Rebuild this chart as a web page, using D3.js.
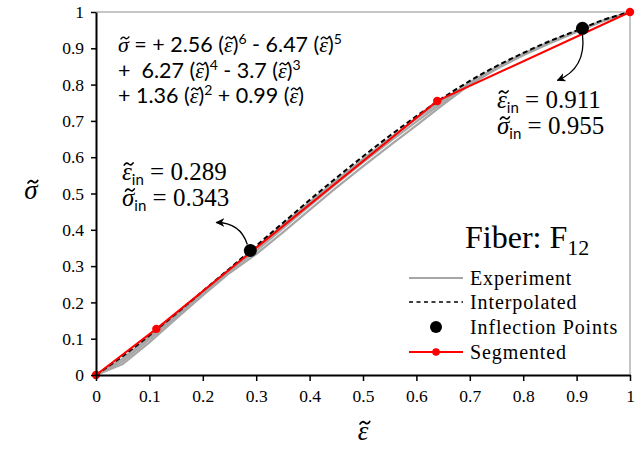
<!DOCTYPE html>
<html>
<head>
<meta charset="utf-8">
<script src="https://cdn.jsdelivr.net/npm/d3@7"></script>
<style>
  html, body { margin: 0; padding: 0; background: #fff; }
  svg { display: block; }
</style>
</head>
<body>
<svg id="chart" width="642" height="450"></svg>
<script>
// Normalised strain positions shared by the sampled curves
const strain = [0, 0.05, 0.1, 0.15, 0.2, 0.25, 0.3, 0.35, 0.4, 0.45, 0.5,
                0.55, 0.6, 0.65, 0.7, 0.75, 0.8, 0.85, 0.9, 0.95, 1];

// Experimental stress curves (several specimens)
const experimentA = [0, 0.045, 0.105, 0.167, 0.229, 0.291, 0.352, 0.414, 0.476, 0.536, 0.595,
                     0.652, 0.706, 0.758, 0.806, 0.848, 0.885, 0.918, 0.947, 0.977, 1.0];
const experimentB = [0, 0.038, 0.098, 0.161, 0.224, 0.286, 0.342, 0.404, 0.466, 0.527, 0.586,
                     0.643, 0.698, 0.752, 0.803, 0.845, 0.883, 0.916, 0.946, 0.976, 1.0];
const experimentC = [0, 0.030, 0.090, 0.155, 0.219, 0.281, 0.333, 0.393, 0.455, 0.516, 0.575,
                     0.632, 0.688, 0.745, 0.800, 0.843, 0.881, 0.914, 0.945, 0.975, 1.0];

// Interpolated polynomial curve values
const interpolated = [0, 0.052, 0.109, 0.169, 0.231, 0.293, 0.356, 0.419, 0.482, 0.543, 0.602,
                      0.659, 0.713, 0.764, 0.810, 0.851, 0.887, 0.920, 0.949, 0.978, 1.0];

// Inflection points
const inflectionStrain = [0.289, 0.911];
const inflectionStress = [0.343, 0.955];

// Segmented (piecewise linear) approximation
const segStrain = [0, 0.113, 0.639, 1];
const segStress = [0, 0.127, 0.755, 1];

const tickValues = [0, 0.1, 0.2, 0.3, 0.4, 0.5, 0.6, 0.7, 0.8, 0.9, 1];

const svg = d3.select("#chart");
const x = d3.scaleLinear().domain([0, 1]).range([96, 630]);
const y = d3.scaleLinear().domain([0, 1]).range([375, 12]);

const serif = "'Liberation Serif', 'DejaVu Serif', serif";
const sans = "Lato, 'Open Sans', sans-serif";

// Plot-area frame (top and right)
svg.append("path")
  .attr("d", `M${x(0)},${y(1)}H${x(1)}V${y(0)}`)
  .attr("fill", "none").attr("stroke", "#8c8c8c").attr("stroke-width", 1);

const line = d3.line().x(d => x(d[0])).y(d => y(d[1]));
const zip = (a, b) => a.map((v, i) => [v, b[i]]);

// Experiment curves
[experimentA, experimentB, experimentC].forEach(arr => {
  svg.append("path")
    .attr("d", line(zip(strain, arr)))
    .attr("fill", "none").attr("stroke", "#a6a6a6").attr("stroke-width", 2.2);
});

// Interpolated curve
svg.append("path")
  .attr("d", d3.line().curve(d3.curveMonotoneX).x(d => x(d[0])).y(d => y(d[1]))(zip(strain, interpolated)))
  .attr("fill", "none").attr("stroke", "#000").attr("stroke-width", 2)
  .attr("stroke-dasharray", "5,3");

// Segmented line
svg.append("path")
  .attr("d", line(zip(segStrain, segStress)))
  .attr("fill", "none").attr("stroke", "#ff0000").attr("stroke-width", 2);
svg.selectAll(".segdot").data(zip(segStrain, segStress)).enter().append("circle")
  .attr("cx", d => x(d[0])).attr("cy", d => y(d[1])).attr("r", 4.2).attr("fill", "#ff0000");

// Axes
const yAxis = svg.append("g").attr("transform", `translate(${x(0)},0)`)
  .call(d3.axisLeft(y).tickValues(tickValues).tickSize(5).tickSizeOuter(0).tickPadding(7)
        .tickFormat(d3.format("~g")));
const xAxis = svg.append("g").attr("transform", `translate(0,${y(0)})`)
  .call(d3.axisBottom(x).tickValues(tickValues).tickSize(6).tickSizeOuter(0).tickPadding(9)
        .tickFormat(d3.format("~g")));
[xAxis, yAxis].forEach(g => {
  g.select(".domain").attr("stroke", "#000").attr("stroke-width", 2);
  g.selectAll(".tick line").attr("stroke", "#000").attr("stroke-width", 1.5);
  g.selectAll(".tick text").attr("fill", "#000").style("font-family", serif).style("font-size", "17.5px");
});

// Inflection points
svg.selectAll(".infl").data(zip(inflectionStrain, inflectionStress)).enter().append("circle")
  .attr("cx", d => x(d[0])).attr("cy", d => y(d[1])).attr("r", 6.5).attr("fill", "#000");

// Arrow marker
svg.append("defs").append("marker")
  .attr("id", "arrowhead").attr("viewBox", "0 0 10 10").attr("refX", 9).attr("refY", 5)
  .attr("markerWidth", 9).attr("markerHeight", 9).attr("orient", "auto-start-reverse")
  .attr("markerUnits", "userSpaceOnUse")
  .append("path").attr("d", "M0,0L10,5L0,10L3,5Z").attr("fill", "#000");

const p1x = x(inflectionStrain[1]), p1y = y(inflectionStress[1]);
svg.append("path")
  .attr("d", `M${p1x},${p1y + 6}Q${p1x + 4},${p1y + 40} ${p1x - 25},${p1y + 52}`)
  .attr("fill", "none").attr("stroke", "#000").attr("stroke-width", 1.3)
  .attr("marker-end", "url(#arrowhead)");
const p0x = x(inflectionStrain[0]), p0y = y(inflectionStress[0]);
svg.append("path")
  .attr("d", `M${p0x - 3},${p0y - 6}Q${p0x - 10},${p0y - 28} ${p0x - 34},${p0y - 28}`)
  .attr("fill", "none").attr("stroke", "#000").attr("stroke-width", 1.3)
  .attr("marker-end", "url(#arrowhead)");

// Draws a tilde accent over an italic symbol tspan sitting on the given baseline
function tildeOver(tspanNode, baseline, fs) {
  const textNode = tspanNode.parentNode;
  let idx = 0;
  for (const n of textNode.childNodes) {
    if (n === tspanNode) break;
    idx += n.textContent.length;
  }
  const ext = textNode.getExtentOfChar(idx);
  const cx = ext.x + ext.width / 2 + 0.07 * fs;
  const w = 0.36 * fs, a = 0.045 * fs;
  const y0 = baseline - 0.64 * fs;
  const x1 = cx - w / 2;
  svg.append("path")
    .attr("d", `M${x1},${y0 + a}Q${x1 + w / 4},${y0 - 2 * a} ${x1 + w / 2},${y0}T${x1 + w},${y0 - a}`)
    .attr("fill", "none").attr("stroke", "#000").attr("stroke-width", Math.max(1, 0.065 * fs))
    .attr("stroke-linecap", "round");
}

// Axis titles
const xTitle = svg.append("text").attr("x", x(0.5)).attr("y", 440).attr("text-anchor", "middle")
  .style("font-family", serif).style("font-style", "italic").style("font-size", "27px");
tildeOver(xTitle.append("tspan").text("ε").node(), 440, 27);
const yTitle = svg.append("text").attr("x", 31).attr("y", 199).attr("text-anchor", "middle")
  .style("font-family", serif).style("font-style", "italic").style("font-size", "27px");
tildeOver(yTitle.append("tspan").text("σ").node(), 199, 27);

// Polynomial equation
const eqLines = [
  [["σ", "v"], [" = + 2.56 (", "t"], ["ε", "v"], [")", "t"], ["6", "s"], [" - 6.47 (", "t"], ["ε", "v"], [")", "t"], ["5", "s"]],
  [["+  6.27 (", "t"], ["ε", "v"], [")", "t"], ["4", "s"], [" - 3.7 (", "t"], ["ε", "v"], [")", "t"], ["3", "s"]],
  [["+ 1.36 (", "t"], ["ε", "v"], [")", "t"], ["2", "s"], [" + 0.99 (", "t"], ["ε", "v"], [")", "t"]]
];
const eqBase = [52, 78, 103];
const eqFs = 21.5;
eqLines.forEach((parts, i) => {
  const t = svg.append("text").attr("x", 118).attr("y", eqBase[i])
    .style("font-family", sans).style("font-size", eqFs + "px").attr("fill", "#000")
    .attr("xml:space", "preserve");
  let raised = false;
  const vars = [];
  parts.forEach(([s, kind]) => {
    const ts = t.append("tspan").text(s);
    if (kind === "s") {
      ts.style("font-size", "14px").attr("dy", raised ? 0 : -8);
      raised = true;
    } else {
      if (raised) ts.attr("dy", 8);
      raised = false;
      if (kind === "v") {
        ts.style("font-family", serif).style("font-style", "italic").style("font-size", "22px");
        vars.push(ts.node());
      }
    }
  });
  vars.forEach(n => tildeOver(n, eqBase[i], 22));
});

// Inflection annotations
function annot(xPos, yPos, sym, value) {
  const fs = 25;
  const t = svg.append("text").attr("x", xPos).attr("y", yPos)
    .style("font-family", serif).style("font-size", fs + "px").attr("fill", "#000");
  const s = t.append("tspan").text(sym).style("font-style", "italic");
  t.append("tspan").text("in").style("font-family", sans).style("font-size", "15px").attr("dy", 5);
  t.append("tspan").text(" = " + value).attr("dy", -5);
  tildeOver(s.node(), yPos, fs);
}
annot(497, 108, "ε", d3.format(".3f")(inflectionStrain[1]));
annot(497, 134, "σ", d3.format(".3f")(inflectionStress[1]));
annot(122, 180, "ε", d3.format(".3f")(inflectionStrain[0]));
annot(122, 206, "σ", d3.format(".3f")(inflectionStress[0]));

// Fiber label
const fib = svg.append("text").attr("x", 465).attr("y", 248)
  .style("font-family", serif).style("font-size", "32px").attr("fill", "#000");
fib.append("tspan").text("Fiber: F");
fib.append("tspan").text("12").style("font-size", "22px").attr("dy", 7);

// Legend
const legendItems = ["Experiment", "Interpolated", "Inflection Points", "Segmented"];
const legY = [278, 302, 327, 352];
const lx0 = 409, lx1 = 463;
legendItems.forEach((name, i) => {
  const g = svg.append("g");
  if (i === 0) g.append("line").attr("x1", lx0).attr("x2", lx1).attr("y1", legY[i]).attr("y2", legY[i])
    .attr("stroke", "#a6a6a6").attr("stroke-width", 2);
  if (i === 1) g.append("line").attr("x1", lx0).attr("x2", lx1).attr("y1", legY[i]).attr("y2", legY[i])
    .attr("stroke", "#000").attr("stroke-width", 1.6).attr("stroke-dasharray", "4,3.5");
  if (i === 2) g.append("circle").attr("cx", (lx0 + lx1) / 2).attr("cy", legY[i]).attr("r", 6).attr("fill", "#000");
  if (i === 3) {
    g.append("line").attr("x1", lx0).attr("x2", lx1).attr("y1", legY[i]).attr("y2", legY[i])
      .attr("stroke", "#ff0000").attr("stroke-width", 2);
    g.append("circle").attr("cx", (lx0 + lx1) / 2).attr("cy", legY[i]).attr("r", 3.8).attr("fill", "#ff0000");
  }
  g.append("text").attr("x", 470).attr("y", legY[i] + 7)
    .style("font-family", serif).style("font-size", "20px").style("letter-spacing", "0.9px")
    .attr("fill", "#000").text(name);
});
</script>
</body>
</html>
